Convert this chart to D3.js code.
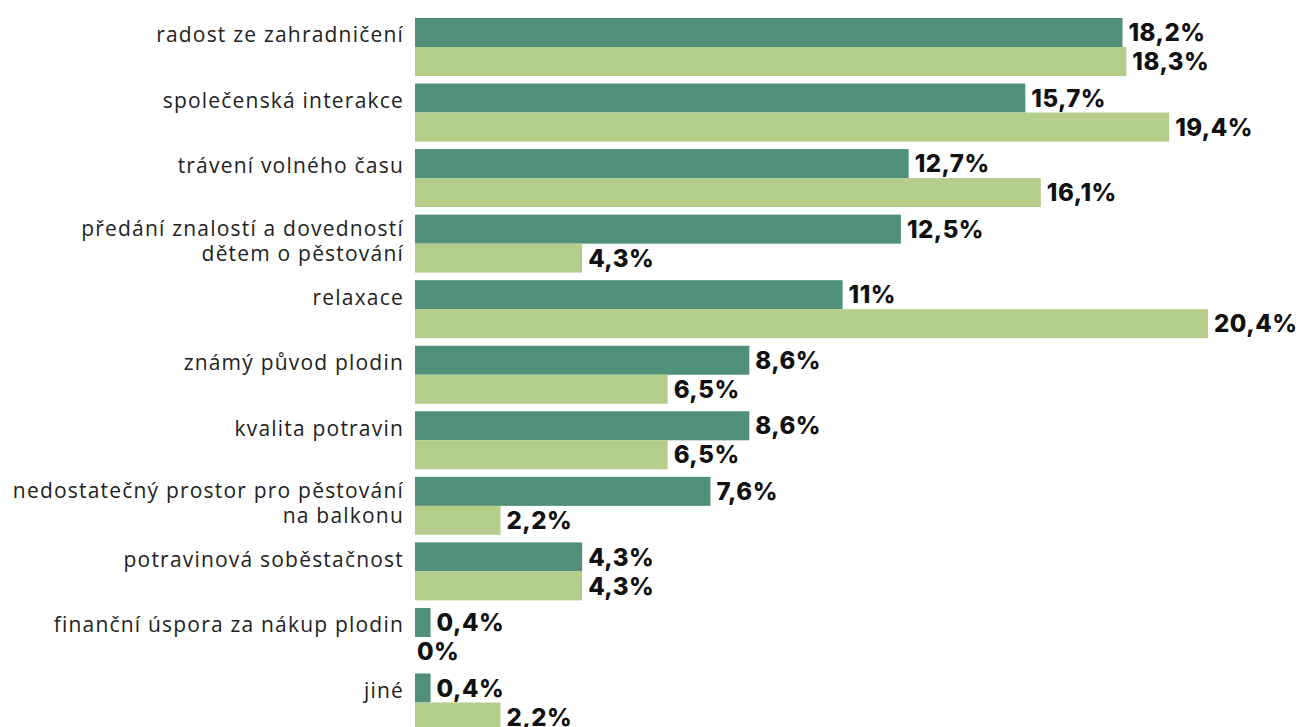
<!DOCTYPE html>
<html>
<head>
<meta charset="utf-8">
<script src="https://cdn.jsdelivr.net/npm/d3@7"></script>
<style>
  body { margin: 0; background: #fff; }
  svg { display: block; }
</style>
</head>
<body>
<div id="chart"></div>
<script>
const categories = [
    ["radost ze zahradničení"],
    ["společenská interakce"],
    ["trávení volného času"],
    ["předání znalostí a dovedností", "dětem o pěstování"],
    ["relaxace"],
    ["známý původ plodin"],
    ["kvalita potravin"],
    ["nedostatečný prostor pro pěstování", "na balkonu"],
    ["potravinová soběstačnost"],
    ["finanční úspora za nákup plodin"],
    ["jiné"]
];
const seriesA = [18.2, 15.7, 12.7, 12.5, 11, 8.6, 8.6, 7.6, 4.3, 0.4, 0.4];
const seriesB = [18.3, 19.4, 16.1, 4.3, 20.4, 6.5, 6.5, 2.2, 4.3, 0, 2.2];
const seriesNames = ["a", "b"];
const colors = ["#508f78", "#b5cd8b"];

const width = 1298, height = 727;
const left = 415;

const svg = d3.select("#chart")
    .append("svg")
    .attr("width", width)
    .attr("height", height);

const keys = categories.map((c, i) => i);

const y = d3.scaleBand()
    .domain(keys)
    .range([18, 731.5])
    .paddingInner(0.115)
    .paddingOuter(0);

const y1 = d3.scaleBand()
    .domain(seriesNames)
    .range([0, y.bandwidth()]);

const x = d3.scaleLinear()
    .domain([0, 20.4])
    .range([left, 1208]);

const fmt = v => String(v).replace(".", ",") + "%";

const rows = keys.map(i => ({
    i,
    values: [
        { s: "a", v: seriesA[i], c: colors[0] },
        { s: "b", v: seriesB[i], c: colors[1] }
    ]
}));

const g = svg.selectAll("g.row")
    .data(rows)
    .enter().append("g")
    .attr("class", "row")
    .attr("transform", d => `translate(0, ${y(d.i)})`);

g.selectAll("rect")
    .data(d => d.values)
    .enter().append("rect")
    .attr("x", x(0))
    .attr("y", d => y1(d.s))
    .attr("width", d => x(d.v) - x(0))
    .attr("height", y1.bandwidth())
    .attr("fill", d => d.c);

g.selectAll("text.val")
    .data(d => d.values)
    .enter().append("text")
    .attr("class", "val")
    .attr("x", d => x(d.v) + (d.v ? 6 : 2))
    .attr("y", d => y1(d.s) + y1.bandwidth() / 2)
    .attr("dy", "0.36em")
    .style("font-family", "Inter, sans-serif")
    .style("font-weight", 800)
    .style("font-size", "24px")
    .style("letter-spacing", "0.5px")
    .style("fill", "#111")
    .text(d => fmt(d.v));

// category labels, right aligned next to bars
const lab = g.append("text")
    .attr("class", "cat")
    .attr("text-anchor", "end")
    .attr("x", 404)
    .style("font-family", "'Open Sans', sans-serif")
    .style("font-size", "21px")
    .style("letter-spacing", "1.2px")
    .style("fill", "#222");

lab.selectAll("tspan")
    .data(d => categories[d.i].map((t, k, arr) => ({ t, k, n: arr.length })))
    .enter().append("tspan")
    .attr("x", 404)
    .attr("y", d => (d.n > 1 ? 14 : 17) + d.k * 25)
    .attr("dy", "0.35em")
    .text(d => d.t);
</script>
</body>
</html>
